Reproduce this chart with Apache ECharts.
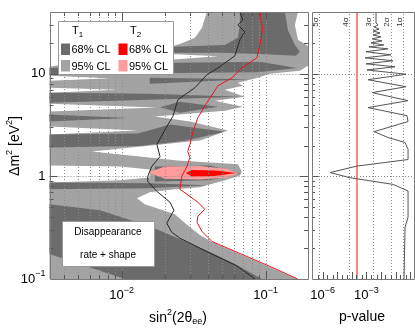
<!DOCTYPE html>
<html>
<head>
<meta charset="utf-8">
<script src="https://cdn.jsdelivr.net/npm/echarts@6/dist/echarts.min.js"></script>
<style>
  html, body { margin: 0; padding: 0; background: #fff; }
  #chart { width: 415px; height: 330px; }
</style>
</head>
<body>
<div id="chart"></div>
<script>
// axis ranges
const sinMin = 0.00316, sinMax = 0.197
const dmMin = 0.1, dmMax = 40
const pMin = 1.9e-7, pMax = 1.7

// tick values
const sinMajor = [0.01, 0.1]
const sinMinor = [0.004, 0.005, 0.006, 0.007, 0.008, 0.009, 0.02, 0.03, 0.04, 0.05, 0.06, 0.07, 0.08, 0.09]
const dmMajor = [1, 10]
const dmMinor = [0.2, 0.3, 0.4, 0.5, 0.6, 0.7, 0.8, 0.9, 2, 3, 4, 5, 6, 7, 8, 9, 20, 30]
const pMajor = [1e-6, 1e-5, 1e-4, 1e-3, 1e-2, 1e-1, 1]
const pMinor = [2e-7, 5e-7, 2e-6, 5e-6, 2e-5, 5e-5, 2e-4, 5e-4, 2e-3, 5e-3, 2e-2, 5e-2, 0.2, 0.5]
const sigmaP = [5.73e-7, 6.33e-5, 2.70e-3, 4.55e-2, 3.17e-1]
const sigmaLabels = ['5σ', '4σ', '3σ', '2σ', '1σ']
const pCut = 2.3e-4

// T1 95% CL region (outline), [sin2(2theta), dm2]
const t1Outer = [
  [0.0391, 40], [0.1677, 40], [0.1598, 29.9], [0.1677, 21.4], [0.197, 18.7], [0.197, 11.97],
  [0.173, 10.7], [0.107, 10], [0.0884, 9.14], [0.0642, 8.18], [0.0696, 7.64], [0.0522, 7.0],
  [0.0718, 5.98], [0.0445, 5.47], [0.0696, 4.78], [0.0522, 4.37], [0.0170, 3.83], [0.0298, 3.42],
  [0.0547, 2.80], [0.035, 2.24], [0.00622, 1.75], [0.0246, 1.43], [0.0642, 1.31], [0.0684, 1.118],
  [0.0663, 1.022], [0.0522, 0.915], [0.035, 0.782], [0.02345, 0.748], [0.0157, 0.699], [0.01277, 0.612],
  [0.01452, 0.535], [0.02345, 0.428], [0.0298, 0.320], [0.035, 0.268], [0.0424, 0.229], [0.0684, 0.171],
  [0.1107, 0.128], [0.165, 0.1], [0.00316, 0.1], [0.00316, 11.7], [0.0227, 18.7], [0.0254, 19.5],
  [0.0323, 22.4], [0.0361, 28.0]
]
// white gaps inside the 95% region
const gap1 = [[0.0217, 15.6], [0.0467, 14.79], [0.0217, 13.7]]
const gap2 = [[0.00316, 9.56], [0.00829, 9.04], [0.00316, 8.55]]
const gap3 = [[0.00316, 7.31], [0.00943, 7.0], [0.00316, 6.55]]
const gap4 = [[0.00316, 5.11], [0.01758, 4.68], [0.00316, 4.28]]
const gap5 = [[0.00316, 3.06], [0.01298, 2.80], [0.00316, 2.56]]
const gap6 = [[0.00316, 1.28], [0.00973, 1.25], [0.0157, 1.17], [0.0157, 0.978], [0.00973, 0.915], [0.00316, 0.874]]

// T1 68% CL pieces
const t1Core1 = [[0.0663, 40], [0.136, 40], [0.1429, 26.7], [0.1598, 19.1], [0.173, 16.4], [0.1623, 14.96],
  [0.0913, 15.6], [0.0482, 16.0], [0.0227, 16.0], [0.0227, 18.3], [0.0522, 19.1], [0.0642, 22.4], [0.0663, 29.9]]
const t1Core2 = [[0.00316, 11.4], [0.0246, 12.8], [0.0913, 13.1], [0.165, 11.4], [0.0884, 10.34], [0.0246, 10.2], [0.00316, 9.78]]
const t1Core3 = [[0.0157, 9.14], [0.0778, 8.84], [0.0157, 8.0]]
const t1Core4 = [[0.00316, 6.55], [0.0157, 6.39], [0.0663, 5.98], [0.0157, 5.59], [0.00316, 5.22]]
const t1Core5 = [[0.0185, 4.73], [0.0254, 5.35], [0.0467, 4.78], [0.0254, 4.18]]
const t1Core6 = [[0.00316, 4.0], [0.01106, 3.70], [0.00316, 3.42]]
const t1Core7 = [[0.00316, 2.56], [0.01298, 2.62], [0.0217, 3.2], [0.0522, 2.73], [0.0275, 2.22], [0.0134, 1.98], [0.00316, 1.91]]
const t1Core8 = [[0.00316, 0.874], [0.0157, 0.855], [0.0391, 0.818], [0.0157, 0.765], [0.00316, 0.748]]
const t1Core9 = [[0.01703, 1.25], [0.041, 1.28], [0.0674, 1.069], [0.041, 0.915], [0.01703, 0.894]]
const t1Core10 = [[0.00316, 0.535], [0.00707, 0.468], [0.0157, 0.327], [0.02345, 0.256], [0.0397, 0.187],
  [0.0612, 0.140], [0.0943, 0.1], [0.01054, 0.1], [0.00316, 0.175]]

// T2 regions
const t2Outer = [[0.01523, 1.093], [0.02, 1.25], [0.035, 1.264], [0.0547, 1.183], [0.0653, 1.069], [0.0547, 0.978], [0.035, 0.935], [0.02, 0.946]]
const t2Core = [[0.02796, 1.081], [0.03078, 1.157], [0.04445, 1.144], [0.0622, 1.081], [0.04445, 1.011], [0.03078, 1.0]]

// exclusion curves
const t1Line = [[0.0663, 40], [0.0695, 33.4], [0.0642, 29.9], [0.0718, 25.6], [0.0663, 21.4], [0.0612, 14.96],
  [0.0467, 11.4], [0.0391, 9.78], [0.0323, 7.31], [0.0275, 6.25], [0.0246, 5.59], [0.0227, 3.83], [0.021, 3.2],
  [0.0176, 2.05], [0.0185, 1.56], [0.0162, 1.25], [0.0152, 1.0], [0.0152, 0.894], [0.0176, 0.714], [0.0217, 0.56],
  [0.0231, 0.468], [0.0206, 0.35], [0.0223, 0.286], [0.0254, 0.25], [0.0397, 0.183], [0.0633, 0.134], [0.0844, 0.1]]
const t2Line = [[0.0927, 40], [0.0913, 35.0], [0.0957, 28.0], [0.0913, 19.1], [0.087, 14.3], [0.0684, 11.4],
  [0.0584, 9.14], [0.0467, 7.64], [0.0391, 5.22], [0.0339, 3.74], [0.0313, 2.73], [0.0298, 2.05], [0.0288, 1.75],
  [0.0298, 1.53], [0.0284, 1.25], [0.0262, 1.0], [0.0254, 0.748], [0.0267, 0.714], [0.0339, 0.56], [0.0378, 0.478],
  [0.0339, 0.409], [0.0334, 0.357], [0.0361, 0.292], [0.0424, 0.232], [0.0684, 0.174], [0.1107, 0.130], [0.167, 0.1]]

// p-value vs dm2
const pCurve = [[4.6e-3, 40], [4.6e-3, 31.3], [6.3e-3, 29.9], [3.4e-3, 28.6], [7.4e-3, 27.3], [2.9e-3, 26.1],
  [8.7e-3, 25.0], [2.9e-3, 23.9], [1.0e-2, 22.9], [2.5e-3, 21.9], [1.2e-2, 20.9], [2.1e-3, 20.0], [1.6e-2, 19.1],
  [1.5e-3, 18.3], [3.1e-2, 17.5], [9.5e-4, 16.4], [4.9e-2, 15.3], [8.1e-4, 14.3], [6.7e-2, 13.4], [9.5e-4, 12.5],
  [9.2e-2, 11.7], [1.1e-3, 10.9], [0.52, 9.9], [1.3e-3, 8.75], [0.52, 7.48], [2.5e-3, 6.55], [0.72, 5.47],
  [1.3e-3, 4.68], [0.61, 3.91], [0.72, 3.42], [3.4e-3, 2.73], [3.1e-2, 2.39], [0.45, 2.14], [0.72, 1.83],
  [0.72, 1.46], [2.3e-4, 1.26], [3.3e-6, 1.09], [7.7e-5, 0.97], [6.7e-2, 0.836], [0.72, 0.72], [0.72, 0.40],
  [0.45, 0.32], [0.38, 0.1]]

const F = "'Liberation Sans', Arimo, Arial, sans-serif"
const LIGHT = '#a3a3a3', DARK = '#6b6b6b', PINK = '#ff9c9c', RED = '#ff0000'

function powLabel(v) {
  const l = Math.log10(v), e = Math.round(l)
  if (Math.abs(l - e) > 1e-6) return ''
  if (e === 0) return '1'
  if (e === 1) return '10'
  return '10{e|−' + Math.abs(e) + '}'
}
const supRich = { e: { fontSize: 9, fontFamily: F, color: '#000', padding: [0, 0, 10, 0] } }

function area(pts, color) {
  return {
    type: 'custom', xAxisIndex: 0, yAxisIndex: 0, z: 2, silent: true,
    data: [pts[0]],
    renderItem: (params, api) => ({
      type: 'polygon',
      shape: { points: pts.map(p => api.coord(p)) },
      style: { fill: color }
    })
  }
}

const dotted = { stroke: '#8c8c8c', lineWidth: 1, lineDash: [1, 2] }

function vGrid(vals, gi, yr) {
  return {
    type: 'custom', xAxisIndex: gi, yAxisIndex: gi, z: 3, silent: true,
    data: vals.map(v => [v, yr[0]]),
    renderItem: (params, api) => {
      const a = api.coord([api.value(0), yr[0]]), b = api.coord([api.value(0), yr[1]])
      const x = Math.round(a[0]) + 0.5
      return { type: 'line', shape: { x1: x, y1: a[1], x2: x, y2: b[1] }, style: dotted }
    }
  }
}
function hGrid(vals, gi, xr) {
  return {
    type: 'custom', xAxisIndex: gi, yAxisIndex: gi, z: 3, silent: true,
    data: vals.map(v => [xr[0], v]),
    renderItem: (params, api) => {
      const a = api.coord([xr[0], api.value(1)]), b = api.coord([xr[1], api.value(1)])
      const y = Math.round(a[1]) + 0.5
      return { type: 'line', shape: { x1: a[0], y1: y, x2: b[0], y2: y }, style: dotted }
    }
  }
}

// ticks inside the frame: on x (bottom/top) or y (left/right)
function ticks(vals, gi, dir, xr, yr, len, sides) {
  return {
    type: 'custom', xAxisIndex: gi, yAxisIndex: gi, z: 5, silent: true,
    data: vals.map(v => dir === 'x' ? [v, yr[0]] : [xr[0], v]),
    renderItem: (params, api) => {
      const st = { stroke: '#555', lineWidth: 1 }
      const out = []
      if (dir === 'x') {
        const v = api.value(0)
        const b = api.coord([v, yr[0]]), t = api.coord([v, yr[1]])
        const x = Math.round(b[0]) + 0.5
        if (sides.includes('b')) out.push({ type: 'line', shape: { x1: x, y1: b[1], x2: x, y2: b[1] - len }, style: st })
        if (sides.includes('t')) out.push({ type: 'line', shape: { x1: x, y1: t[1], x2: x, y2: t[1] + len }, style: st })
      } else {
        const v = api.value(1)
        const l = api.coord([xr[0], v]), r = api.coord([xr[1], v])
        const y = Math.round(l[1]) + 0.5
        if (sides.includes('l')) out.push({ type: 'line', shape: { x1: l[0], y1: y, x2: l[0] + len, y2: y }, style: st })
        if (sides.includes('r')) out.push({ type: 'line', shape: { x1: r[0], y1: y, x2: r[0] - len, y2: y }, style: st })
      }
      return { type: 'group', children: out }
    }
  }
}

function frame(gi, xr, yr) {
  return {
    type: 'custom', xAxisIndex: gi, yAxisIndex: gi, z: 6, silent: true,
    data: [[xr[0], yr[0]]],
    renderItem: (params, api) => {
      const a = api.coord([xr[0], yr[1]]), b = api.coord([xr[1], yr[0]])
      const x = Math.round(a[0]) + 0.5, y = Math.round(a[1]) + 0.5
      return {
        type: 'rect',
        shape: { x, y, width: Math.round(b[0]) - Math.round(a[0]), height: Math.round(b[1]) - Math.round(a[1]) },
        style: { fill: null, stroke: '#7a7a7a', lineWidth: 1 }
      }
    }
  }
}

const sinR = [sinMin, sinMax], dmR = [dmMin, dmMax], pR = [pMin, pMax]

const series = [
  area(t1Outer, LIGHT),
  area(gap1, '#fff'), area(gap2, '#fff'), area(gap3, '#fff'), area(gap4, '#fff'), area(gap5, '#fff'), area(gap6, '#fff'),
  area(t1Core1, DARK), area(t1Core2, DARK), area(t1Core3, DARK), area(t1Core4, DARK), area(t1Core5, DARK),
  area(t1Core6, DARK), area(t1Core7, DARK), area(t1Core8, DARK), area(t1Core9, DARK), area(t1Core10, DARK),
  area(t2Outer, PINK), area(t2Core, RED),
  vGrid(sinMajor.concat(sinMinor), 0, dmR),
  hGrid(dmMajor, 0, sinR),
  { type: 'line', xAxisIndex: 0, yAxisIndex: 0, data: t1Line, symbol: 'none', z: 4, silent: true,
    lineStyle: { color: '#262626', width: 1 } },
  { type: 'line', xAxisIndex: 0, yAxisIndex: 0, data: t2Line, symbol: 'none', z: 4, silent: true,
    lineStyle: { color: '#e8141a', width: 1 } },
  ticks(sinMajor, 0, 'x', sinR, dmR, 8, 'bt'),
  ticks(sinMinor, 0, 'x', sinR, dmR, 4, 'bt'),
  ticks(dmMajor, 0, 'y', sinR, dmR, 8, 'lr'),
  ticks(dmMinor, 0, 'y', sinR, dmR, 4, 'lr'),
  frame(0, sinR, dmR),

  // p-value panel
  vGrid(sigmaP, 1, dmR),
  hGrid(dmMajor, 1, pR),
  { type: 'line', xAxisIndex: 1, yAxisIndex: 1, data: [[pCut, dmMin], [pCut, dmMax]], symbol: 'none', z: 4, silent: true,
    lineStyle: { color: '#ff8585', width: 2 } },
  { type: 'line', xAxisIndex: 1, yAxisIndex: 1, data: pCurve, symbol: 'none', z: 4, silent: true,
    lineStyle: { color: '#555', width: 1 } },
  {
    type: 'custom', xAxisIndex: 1, yAxisIndex: 1, z: 5, silent: true,
    data: sigmaP.map((p, i) => [p, dmMax, i]),
    renderItem: (params, api) => {
      const c = api.coord([api.value(0), dmMax])
      return {
        type: 'text', x: c[0] - 3.5, y: c[1] + 10, rotation: Math.PI / 2,
        style: { text: sigmaLabels[api.value(2)], fontSize: 8, fontFamily: F, fill: '#333', align: 'center', verticalAlign: 'middle' }
      }
    }
  },
  ticks(pMajor, 1, 'x', pR, dmR, 7, 'b'),
  ticks(pMinor, 1, 'x', pR, dmR, 4, 'b'),
  ticks(dmMajor, 1, 'y', pR, dmR, 6, 'l'),
  ticks(dmMinor, 1, 'y', pR, dmR, 3, 'l'),
  frame(1, pR, dmR)
]

const hidden = { axisLine: { show: false }, axisTick: { show: false }, splitLine: { show: false } }

const option = {
  animation: false,
  backgroundColor: '#fff',
  grid: [
    { left: 49.5, top: 12, width: 258.5, height: 267, containLabel: false, outerBoundsMode: 'none' },
    { left: 312, top: 12, width: 101.5, height: 267, containLabel: false, outerBoundsMode: 'none' }
  ],
  xAxis: [
    Object.assign({ type: 'log', logBase: 10, gridIndex: 0, min: sinMin, max: sinMax,
      axisLabel: { formatter: powLabel, margin: 7, fontSize: 13, fontFamily: F, color: '#000', rich: supRich,
        showMinLabel: false, showMaxLabel: false } }, hidden),
    Object.assign({ type: 'log', logBase: 10, gridIndex: 1, min: pMin, max: pMax,
      axisLabel: { formatter: v => { const s = powLabel(v); return (s.includes('−6') || s.includes('−3')) ? s : '' },
        margin: 7, fontSize: 13, fontFamily: F, color: '#000', rich: supRich, showMinLabel: false, showMaxLabel: false } }, hidden)
  ],
  yAxis: [
    Object.assign({ type: 'log', logBase: 10, gridIndex: 0, min: dmMin, max: dmMax,
      axisLabel: { formatter: powLabel, margin: 4, fontSize: 13, fontFamily: F, color: '#000', rich: supRich,
        showMinLabel: true, showMaxLabel: false } }, hidden),
    Object.assign({ type: 'log', logBase: 10, gridIndex: 1, min: dmMin, max: dmMax,
      axisLabel: { show: false } }, hidden)
  ],
  series,
  graphic: [
    // legend
    { type: 'rect', z: 100, shape: { x: 58.5, y: 21.5, width: 115, height: 53 }, style: { fill: '#fff', stroke: '#999', lineWidth: 1 } },
    { type: 'text', z: 101, x: 72, y: 31, style: { text: 'T{s|1}', fontSize: 11, fontFamily: F, fill: '#000', verticalAlign: 'middle',
      rich: { s: { fontSize: 8, fontFamily: F, padding: [7, 0, 0, 0] } } } },
    { type: 'text', z: 101, x: 130, y: 31, style: { text: 'T{s|2}', fontSize: 11, fontFamily: F, fill: '#000', verticalAlign: 'middle',
      rich: { s: { fontSize: 8, fontFamily: F, padding: [7, 0, 0, 0] } } } },
    { type: 'rect', z: 101, shape: { x: 61, y: 43.5, width: 9, height: 11.5 }, style: { fill: DARK } },
    { type: 'rect', z: 101, shape: { x: 61, y: 60, width: 9, height: 11.5 }, style: { fill: LIGHT } },
    { type: 'rect', z: 101, shape: { x: 118.5, y: 43.5, width: 9, height: 11.5 }, style: { fill: RED } },
    { type: 'rect', z: 101, shape: { x: 118.5, y: 60, width: 9, height: 11.5 }, style: { fill: PINK } },
    { type: 'text', z: 101, x: 71.5, y: 50, style: { text: '68% CL', fontSize: 11, fontFamily: F, fill: '#000', verticalAlign: 'middle' } },
    { type: 'text', z: 101, x: 71.5, y: 66.5, style: { text: '95% CL', fontSize: 11, fontFamily: F, fill: '#000', verticalAlign: 'middle' } },
    { type: 'text', z: 101, x: 129, y: 50, style: { text: '68% CL', fontSize: 11, fontFamily: F, fill: '#000', verticalAlign: 'middle' } },
    { type: 'text', z: 101, x: 129, y: 66.5, style: { text: '95% CL', fontSize: 11, fontFamily: F, fill: '#000', verticalAlign: 'middle' } },
    // analysis label
    { type: 'rect', z: 100, shape: { x: 62.5, y: 221.5, width: 92, height: 45 }, style: { fill: '#fff', stroke: '#999', lineWidth: 1 } },
    { type: 'text', z: 101, x: 108, y: 232, style: { text: 'Disappearance', fontSize: 10, fontFamily: F, fill: '#000', align: 'center', verticalAlign: 'middle' } },
    { type: 'text', z: 101, x: 108, y: 255.5, style: { text: 'rate + shape', fontSize: 10, fontFamily: F, fill: '#000', align: 'center', verticalAlign: 'middle' } },
    // axis titles
    { type: 'text', z: 101, x: 15, y: 146, rotation: Math.PI / 2,
      style: { text: 'Δm{e|2} [eV{e|2}]', fontSize: 14, fontFamily: F, fill: '#000', align: 'center', verticalAlign: 'middle',
        rich: { e: { fontSize: 9, fontFamily: F, padding: [0, 0, 10, 0] } } } },
    { type: 'text', z: 101, x: 178, y: 318,
      style: { text: 'sin{e|2}(2θ{s|ee})', fontSize: 14, fontFamily: F, fill: '#000', align: 'center', verticalAlign: 'middle',
        rich: { e: { fontSize: 9, fontFamily: F, padding: [0, 0, 10, 0] }, s: { fontSize: 9, fontFamily: F, padding: [8, 0, 0, 0] } } } },
    { type: 'text', z: 101, x: 362, y: 317,
      style: { text: 'p-value', fontSize: 14, fontFamily: F, fill: '#000', align: 'center', verticalAlign: 'middle' } }
  ]
}

const chart = echarts.init(document.getElementById('chart'))
chart.setOption(option)
</script>
</body>
</html>
